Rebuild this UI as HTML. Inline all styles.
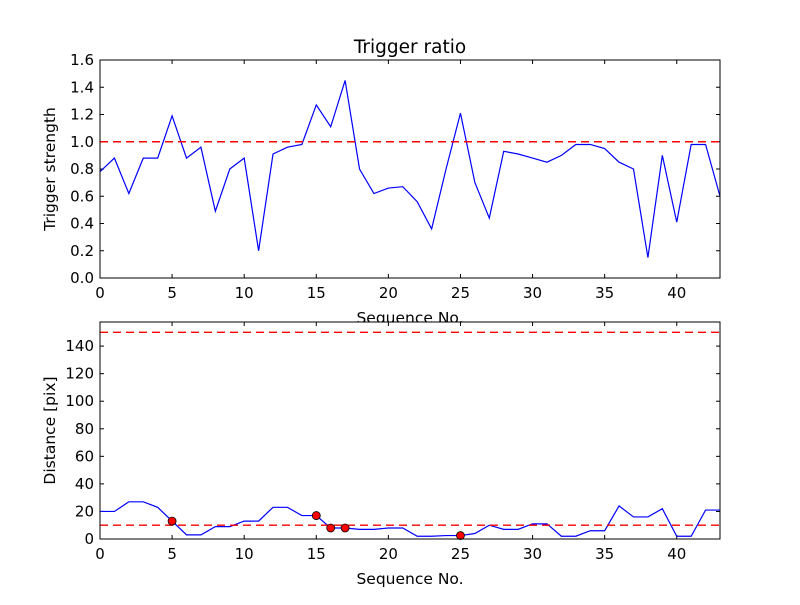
<!DOCTYPE html>
<html><head><meta charset="utf-8"><style>body{margin:0;background:#fff}svg{font-family:"DejaVu Sans","Liberation Sans",sans-serif}</style></head>
<body>
<svg id="c" width="800" height="600"></svg>
<script>
const seqTop = [0,1,2,3,4,5,6,7,8,9,10,11,12,13,14,15,16,17,18,19,20,21,22,23,24,25,26,27,28,29,30,31,32,33,34,35,36,37,38,39,40,41,42,43];
const strength = [0.78,0.88,0.62,0.88,0.88,1.19,0.88,0.96,0.49,0.80,0.88,0.20,0.91,0.96,0.98,1.27,1.11,1.45,0.80,0.62,0.66,0.67,0.56,0.36,0.80,1.21,0.70,0.44,0.93,0.91,0.88,0.85,0.90,0.98,0.98,0.95,0.85,0.80,0.15,0.90,0.41,0.98,0.98,0.60];
const distance = [20,20,27,27,23,13,3,3,9,9,13,13,23,23,17,17,8,8,7,7,8,8,2,2,2.5,2.5,4,10,7,7,11,11,2,2,6,6,24,16,16,22,2,2,21,21];
const markedIdx = [5,15,16,17,25];
const strengthThreshold = 1.0;
const distThreshold = [10,150];
const xTicks = [0,5,10,15,20,25,30,35,40];
const yTicksTop = [0,0.2,0.4,0.6,0.8,1.0,1.2,1.4,1.6];
const yTicksBot = [0,20,40,60,80,100,120,140];

const svg=document.getElementById('c');const NS='http://www.w3.org/2000/svg';
function mk(t,a,p){const e=document.createElementNS(NS,t);for(const k in a)e.setAttribute(k,a[k]);(p||svg).appendChild(e);return e;}
const L=100,R=720;
const x=v=>L+(v-0)/(43-0)*(R-L);
function panel(top,bot,ymax,yTicks,fmt,ylabel,name){
  const y=v=>bot-v/ymax*(bot-top);
  const g=mk('g',{});
  
  
  mk('rect',{x:L,y:top,width:R-L,height:bot-top,fill:'#fff'},g);
  xTicks.forEach(t=>{
    mk('line',{x1:x(t),x2:x(t),y1:bot,y2:bot-4,stroke:'#000'},g);
    mk('line',{x1:x(t),x2:x(t),y1:top,y2:top+4,stroke:'#000'},g);
    const tx=mk('text',{x:x(t),y:bot+20,'text-anchor':'middle','font-size':15},g);tx.textContent=t;
    
    
  });
  yTicks.forEach(t=>{
    mk('line',{x1:L,x2:L+4,y1:y(t),y2:y(t),stroke:'#000'},g);
    mk('line',{x1:R,x2:R-4,y1:y(t),y2:y(t),stroke:'#000'},g);
    const tx=mk('text',{x:L-6,y:y(t)+5,'text-anchor':'end','font-size':15},g);tx.textContent=fmt(t);
    
    
  });
  const xl=mk('text',{x:(L+R)/2,y:bot+45,'text-anchor':'middle','font-size':15.5},g);xl.textContent='Sequence No.';
  
  
  const cy=(top+bot)/2;
  const yl=mk('text',{x:55,y:cy,'text-anchor':'middle','font-size':15.5,transform:`rotate(-90 55 ${cy})`},g);yl.textContent=ylabel;
  
  
  return {g,y};
}
const p1=panel(60,278,1.6,yTicksTop,t=>t.toFixed(1),'Trigger strength','top-panel');
let d='';seqTop.forEach((s,i)=>{d+=(i?'L':'M')+x(s)+' '+p1.y(strength[i]);});
const l1=mk('path',{d,fill:'none',stroke:'#0000ff','stroke-width':1.2},p1.g);


const t1=mk('line',{x1:L,x2:R,y1:p1.y(strengthThreshold),y2:p1.y(strengthThreshold),stroke:'#ff0000','stroke-width':1.4,'stroke-dasharray':'8,5'},p1.g);


mk('rect',{x:L,y:60,width:R-L,height:218,fill:'none',stroke:'#000'},p1.g);
const ti=mk('text',{x:410,y:53,'text-anchor':'middle','font-size':18.5});ti.textContent='Trigger ratio';



const p2=panel(322,539,157.5,yTicksBot,t=>t,'Distance [pix]','bottom-panel');
d='';seqTop.forEach((s,i)=>{d+=(i?'L':'M')+x(s)+' '+p2.y(distance[i]);});
const l2=mk('path',{d,fill:'none',stroke:'#0000ff','stroke-width':1.2},p2.g);


distThreshold.forEach(v=>{
  const t=mk('line',{x1:L,x2:R,y1:p2.y(v),y2:p2.y(v),stroke:'#ff0000','stroke-width':1.4,'stroke-dasharray':'8,5'},p2.g);
  
  
});
markedIdx.forEach(i=>{
  const c=mk('circle',{cx:x(seqTop[i]),cy:p2.y(distance[i]),r:4,fill:'#ff0000',stroke:'#000','stroke-width':0.8},p2.g);
  
  
});
mk('rect',{x:L,y:322,width:R-L,height:217,fill:'none',stroke:'#000'},p2.g);
</script>
</body></html>
